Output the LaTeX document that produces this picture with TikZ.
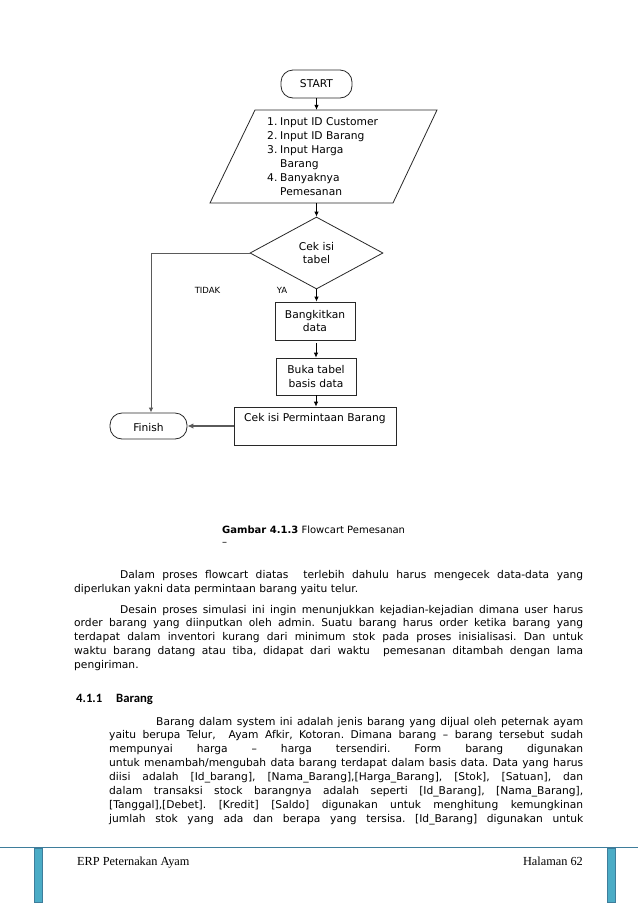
\documentclass[tikz,border=0pt]{standalone}
\usepackage{fontspec}
\setmainfont{DejaVu Sans}
\newfontfamily\serifft{Liberation Serif}
\newfontfamily\headft{Carlito}
\usetikzlibrary{shapes.geometric,arrows.meta}
\definecolor{footblue}{RGB}{75,172,198}
\definecolor{footline}{RGB}{62,125,155}
\definecolor{linegray}{RGB}{40,40,40}
\definecolor{leftgray}{RGB}{90,90,90}
\newcommand\bodyfs{\fontsize{10.7}{13.9}\selectfont}
\newcommand\jline[5]{\node[anchor=base west,inner sep=0pt,font=\bodyfs] (#1) at (#2,#3) {\makebox[#4pt][s]{#5}};}
\newcommand\tline[4]{\node[anchor=base west,inner sep=0pt,font=\bodyfs] (#1) at (#2,#3) {#4};}
\frenchspacing
\begin{document}
\begin{tikzpicture}[x=1pt,y=-1pt,
  shapeline/.style={draw=linegray, line width=0.8pt},
  term/.style={shapeline, rounded corners=12pt, inner sep=0pt, font=\bodyfs},
  proc/.style={shapeline, inner sep=0pt, align=center, font=\bodyfs},
  arr/.style={-{Latex[length=5pt,width=4.5pt]}, line width=0.8pt, draw=black},
  garr/.style={-{Latex[length=5pt,width=4.5pt]}, line width=1pt, draw=leftgray},
  tarr/.style={-{Latex[length=6pt,width=5.5pt]}, line width=1.6pt, draw=leftgray},
  lab/.style={inner sep=0pt, font=\fontsize{8.5}{10}\selectfont},
  headtxt/.style={anchor=base west, inner sep=0pt, font=\headft\fontsize{12.7}{14}\selectfont\bfseries}]
\fill[white] (0,0) rectangle (638,903);
\useasboundingbox (0,0) rectangle (638,903);

% ---------- flowchart ----------
\node[term, minimum width=71pt, minimum height=28pt] (start) at (316.5,84) {START};

\draw[shapeline] (255,110) -- (437,110) -- (393,203) -- (210,203) -- cycle;
\node[inner sep=0pt, minimum width=183pt, minimum height=93pt] (inp) at (323.5,156.5) {};
\node[anchor=west, align=left, inner sep=0pt, font=\bodyfs] (inptext) at (267,156.5)
 {\makebox[13pt][l]{1.}Input ID Customer\\
  \makebox[13pt][l]{2.}Input ID Barang\\
  \makebox[13pt][l]{3.}Input Harga\\
  \hspace*{13pt}Barang\\
  \makebox[13pt][l]{4.}Banyaknya\\
  \hspace*{13pt}Pemesanan};

\node[diamond, shapeline, minimum width=133pt, minimum height=72pt, aspect=1.85,
      inner sep=0pt, align=center, font=\bodyfs] (dia) at (316.5,253) {Cek isi\\tabel};

\node[proc, minimum width=80pt, minimum height=38pt] (b1) at (315,321) {Bangkitkan\\data};
\node[proc, minimum width=80pt, minimum height=37pt] (b2) at (316,376.5) {Buka tabel\\basis data};
\node[proc, minimum width=162pt, minimum height=38pt] (b3) at (315,426) {Cek isi Permintaan Barang\\\strut};
\node[term, minimum width=77pt, minimum height=26pt, text depth=0pt] (fin) at (148.5,426) {\raisebox{-2pt}{Finish}};

\node[lab] (tidak) at (207.5,290) {TIDAK};
\node[lab] (ya) at (282,290) {YA};

\draw[arr] (start.south) -- (start.south |- inp.north);
\draw[arr] (inp.south -| dia.north) -- (dia.north);
\draw[garr] (dia.west) -| ([xshift=2.5pt]fin.north);
\draw[arr] (dia.south) -- (dia.south |- b1.north);
\draw[arr] ([yshift=-3pt]b1.south -| b2.north) -- (b2.north);
\draw[arr] (b2.south) -- (b2.south |- b3.north);
\draw[tarr] (b3.west) -- (fin.east);

% ---------- caption ----------
\node[anchor=base west, inner sep=0pt, font=\fontsize{10}{12}\selectfont] (cap) at (222,533)
  {\textbf{Gambar 4.1.3} Flowcart Pemesanan};
\node[anchor=base west, inner sep=0pt, font=\fontsize{10}{12}\selectfont] (capdash) at (222,545) {–};

% ---------- body text ----------
\jline{p1a}{120}{578}{463}{Dalam proses flowcart diatas\ \ terlebih dahulu harus mengecek data-data yang}
\tline{p1b}{74}{592}{diperlukan yakni data permintaan barang yaitu telur.}

\jline{p2a}{120}{613}{463}{Desain proses simulasi ini ingin menunjukkan kejadian-kejadian dimana user harus}
\jline{p2b}{74}{626.9}{509}{order barang yang diinputkan oleh admin. Suatu barang harus order ketika barang yang}
\jline{p2c}{74}{640.8}{509}{terdapat dalam inventori kurang dari minimum stok pada proses inisialisasi. Dan untuk}
\jline{p2d}{74}{654.7}{509}{waktu barang datang atau tiba, didapat dari waktu\ \ pemesanan ditambah dengan lama}
\tline{p2e}{74}{668.6}{pengiriman.}

\node[headtxt] (hnum) at (76,702.5) {4.1.1};
\node[headtxt] (htit) at (116,702.5) {Barang};

\jline{p3a}{156}{725}{427}{Barang dalam system ini adalah jenis barang yang dijual oleh peternak ayam}
\jline{p3b}{109}{738.9}{474}{yaitu berupa Telur,\ \ Ayam Afkir, Kotoran. Dimana barang – barang tersebut sudah}
\jline{p3c}{109}{752.8}{474}{mempunyai harga – harga tersendiri. Form barang digunakan}
\jline{p3d}{109}{766.7}{474}{untuk menambah/mengubah data barang terdapat dalam basis data. Data yang harus}
\jline{p3e}{109}{780.6}{474}{diisi adalah [Id\_barang], [Nama\_Barang],[Harga\_Barang], [Stok], [Satuan], dan}
\jline{p3f}{109}{794.5}{474}{dalam transaksi stock barangnya adalah seperti [Id\_Barang], [Nama\_Barang],}
\jline{p3g}{109}{808.4}{474}{[Tanggal],[Debet]. [Kredit] [Saldo] digunakan untuk menghitung kemungkinan}
\jline{p3h}{109}{822.3}{474}{jumlah stok yang ada dan berapa yang tersisa. [Id\_Barang] digunakan untuk}

% ---------- footer ----------
\draw[footline, line width=1pt] (0,847.5) -- (638,847.5);
\filldraw[fill=footblue, draw=footline, line width=0.6pt] (34.5,848) rectangle (42.5,902);
\filldraw[fill=footblue, draw=footline, line width=0.6pt] (607,848) rectangle (615,902);
\node[anchor=base west, inner sep=0pt, font=\serifft\fontsize{12.3}{14}\selectfont] (ftl) at (77,865) {ERP Peternakan Ayam};
\node[anchor=base east, inner sep=0pt, font=\serifft\fontsize{12.3}{14}\selectfont] (ftr) at (583,865) {Halaman 62};
\end{tikzpicture}
\end{document}
